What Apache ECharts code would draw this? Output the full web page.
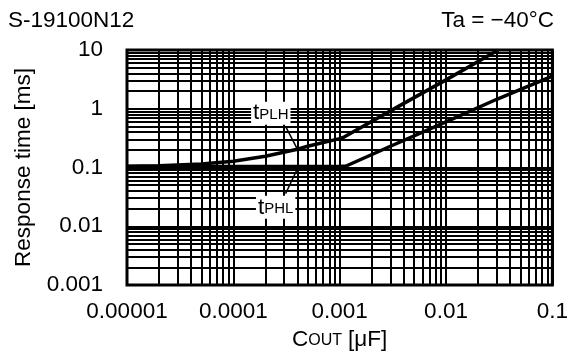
<!DOCTYPE html>
<html>
<head>
<meta charset="utf-8">
<script src="https://cdn.jsdelivr.net/npm/echarts@6/dist/echarts.min.js"></script>
<style>
  html, body { margin: 0; padding: 0; background: #fff; }
  #chart { width: 571px; height: 357px; }
</style>
</head>
<body>
<div id="chart"></div>
<script>
  // C_OUT [uF] vs response time [ms], Ta = -40 C
  const capPLH = [0.00001, 0.00002, 0.00005, 0.0001, 0.0002, 0.0004, 0.0005, 0.001, 0.0011, 0.003, 0.01, 0.031];
  const tPLH   = [0.105, 0.107, 0.115, 0.128, 0.155, 0.205, 0.23, 0.31, 0.33, 0.92, 3.1, 10];
  const capPHL = [0.00001, 0.0001, 0.0004, 0.001, 0.00115, 0.003, 0.01, 0.03, 0.1];
  const tPHL   = [0.104, 0.104, 0.104, 0.104, 0.106, 0.23, 0.6, 1.45, 3.6];

  const xTicks = ['0.00001', '0.0001', '0.001', '0.01', '0.1'];
  const yTicks = ['0.001', '0.01', '0.1', '1', '10'];

  // label anchors and leader lines, in data units
  const plhLabel = [0.000225, 0.84];
  const plhLeader = [[0.00031, 0.5], [0.0004, 0.205]];
  const phlLabel = [0.00025, 0.021];
  const phlLeader = [[0.00031, 0.036], [0.00041, 0.104]];

  const font = 'Liberation Sans, Arial, sans-serif';
  const fs = 22.5;
  const chart = echarts.init(document.getElementById('chart'));

  const pairs = (xs, ys) => xs.map((x, i) => [x, ys[i]]);
  const subLabel = (sub) => ({
    show: true,
    position: 'inside',
    formatter: '{t|t}{s|' + sub + '}',
    backgroundColor: '#fff',
    padding: [0, 2, 0, 2],
    rich: {
      t: { fontFamily: font, fontSize: fs, color: '#000', verticalAlign: 'bottom' },
      s: { fontFamily: font, fontSize: 15, color: '#000', verticalAlign: 'bottom', padding: [0, 0, 2, 0] }
    }
  });
  const leader = (pts) => ({
    silent: true,
    symbol: 'none',
    label: { show: false },
    lineStyle: { color: '#000', width: 1.5, type: 'solid' },
    data: [[{ coord: pts[0] }, { coord: pts[1] }]]
  });

  chart.setOption({
    animation: false,
    textStyle: { fontFamily: font },
    graphic: [
      { type: 'text', left: 8, top: 9, style: { text: 'S-19100N12', fontFamily: font, fontSize: fs, fill: '#000' } },
      { type: 'text', right: 17, top: 9, style: { text: 'Ta = \u221240\u00b0C', fontFamily: font, fontSize: fs, fill: '#000' } }
    ],
    grid: {
      left: 127, right: 18, top: 50, bottom: 72,
      show: true, borderColor: '#000', borderWidth: 3, backgroundColor: '#fff'
    },
    xAxis: {
      type: 'log', logBase: 10, min: 0.00001, max: 0.1,
      name: '{c|C}{s|OUT}{c|[\u03bcF]}',
      nameLocation: 'middle', nameGap: 43,
      nameTextStyle: {
        rich: {
          c: { fontFamily: font, fontSize: fs, color: '#000', verticalAlign: 'bottom' },
          s: { fontFamily: font, fontSize: 16, color: '#000', verticalAlign: 'bottom', padding: [0, 6, 2, 0] }
        }
      },
      axisLine: { show: false },
      axisTick: { show: false },
      axisLabel: {
        fontSize: fs, color: '#000', margin: 15,
        formatter: (v) => xTicks[Math.round(Math.log10(v)) + 5]
      },
      splitLine: { show: true, lineStyle: { color: '#000', width: 2 } },
      minorTick: { show: false, splitNumber: 9 },
      minorSplitLine: { show: true, lineStyle: { color: '#000', width: 2 } }
    },
    yAxis: {
      type: 'log', logBase: 10, min: 0.001, max: 10,
      name: 'Response time [ms]',
      nameLocation: 'middle', nameGap: 89,
      nameTextStyle: { fontFamily: font, fontSize: fs, color: '#000' },
      axisLine: { show: false },
      axisTick: { show: false },
      axisLabel: {
        fontSize: fs, color: '#000', margin: 24,
        formatter: (v) => yTicks[Math.round(Math.log10(v)) + 3]
      },
      splitLine: { show: true, lineStyle: { color: '#000', width: 2 } },
      minorTick: { show: false, splitNumber: 9 },
      minorSplitLine: { show: true, lineStyle: { color: '#000', width: 2 } }
    },
    series: [
      {
        name: 'tPLH', type: 'line', data: pairs(capPLH, tPLH),
        showSymbol: false, lineStyle: { color: '#000', width: 3.5 },
        markLine: leader(plhLeader),
        markPoint: {
          symbol: 'rect', symbolSize: 1, itemStyle: { color: 'rgba(0,0,0,0)' },
          label: subLabel('PLH'),
          data: [{ coord: plhLabel }]
        }
      },
      {
        name: 'tPHL', type: 'line', data: pairs(capPHL, tPHL),
        showSymbol: false, lineStyle: { color: '#000', width: 3.5 },
        markLine: leader(phlLeader),
        markPoint: {
          symbol: 'rect', symbolSize: 1, itemStyle: { color: 'rgba(0,0,0,0)' },
          label: subLabel('PHL'),
          data: [{ coord: phlLabel }]
        }
      }
    ]
  });
</script>
</body>
</html>
